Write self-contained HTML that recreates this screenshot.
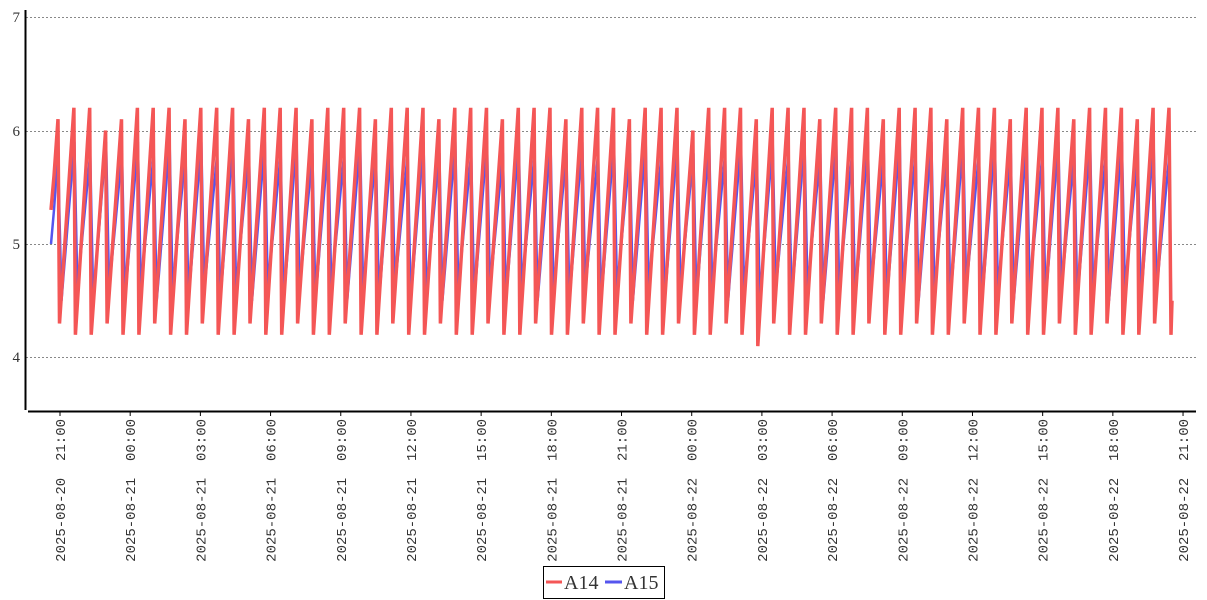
<!DOCTYPE html>
<html><head><meta charset="utf-8"><style>
html,body{margin:0;padding:0;background:#fff;}
svg{display:block;}
</style></head><body>
<svg id="s" width="1207" height="600" xmlns="http://www.w3.org/2000/svg">
<g stroke="#888" stroke-dasharray="2,2" stroke-width="1">
<line x1="26" y1="17.5" x2="1196" y2="17.5"/>
<line x1="26" y1="131.5" x2="1196" y2="131.5"/>
<line x1="26" y1="244.5" x2="1196" y2="244.5"/>
<line x1="26" y1="357.5" x2="1196" y2="357.5"/>
</g>
<g font-family="Liberation Serif, serif" font-size="15" fill="#333" text-anchor="end">
<text x="20" y="22">7</text><text x="20" y="136">6</text><text x="20" y="249">5</text><text x="20" y="362">4</text>
</g>
<line x1="25.5" y1="10" x2="25.5" y2="410" stroke="#000" stroke-width="2"/>
<line x1="28" y1="411.5" x2="1196" y2="411.5" stroke="#000" stroke-width="2"/>
<g id="xt"></g>
<path id="blue" fill="none" stroke="#5555ee" stroke-width="2.5" stroke-linejoin="miter"/>
<path id="red" fill="none" stroke="#f45656" stroke-width="3.5" stroke-linejoin="miter"/>
<rect x="543.5" y="566.5" width="121" height="32" fill="#fff" stroke="#000"/>
<line x1="546" y1="582" x2="562" y2="582" stroke="#f45656" stroke-width="3"/>
<text x="564" y="589" font-family="Liberation Serif, serif" font-size="20" fill="#333">A14</text>
<line x1="605" y1="582" x2="622" y2="582" stroke="#5555ee" stroke-width="3"/>
<text x="624" y="589" font-family="Liberation Serif, serif" font-size="20" fill="#333">A15</text>
</svg>
<script>
var ns="http://www.w3.org/2000/svg";
var labels=["2025-08-20  21:00","2025-08-21  00:00","2025-08-21  03:00","2025-08-21  06:00","2025-08-21  09:00","2025-08-21  12:00","2025-08-21  15:00","2025-08-21  18:00","2025-08-21  21:00","2025-08-22  00:00","2025-08-22  03:00","2025-08-22  06:00","2025-08-22  09:00","2025-08-22  12:00","2025-08-22  15:00","2025-08-22  18:00","2025-08-22  21:00"];
var g=document.getElementById("xt");
for(var i=0;i<labels.length;i++){
 var x=60+70.19*i;
 var l=document.createElementNS(ns,"line");
 l.setAttribute("x1",x);l.setAttribute("x2",x);l.setAttribute("y1",412);l.setAttribute("y2",416);l.setAttribute("stroke","#000");
 g.appendChild(l);
 var t=document.createElementNS(ns,"text");
 t.setAttribute("transform","translate("+(x+5)+",419) rotate(-90)");
 t.setAttribute("text-anchor","end");
 t.setAttribute("font-family","Liberation Mono, monospace");
 t.setAttribute("font-size","14");t.setAttribute("fill","#333");
 t.setAttribute("xml:space","preserve");t.style.whiteSpace="pre";
 t.textContent=labels[i];g.appendChild(t);
}
function Y(v){return 244-(v-5)*113.5;}
var N=70,x0=58,x1=1169,p=(x1-x0)/N;
var r="M51,"+Y(5.3)+" L54,"+Y(5.6)+" L58,"+Y(6.1);
var b="M51,"+Y(5.0)+" L54,"+Y(5.3)+" L58,"+Y(5.8);
for(var k=0;k<N;k++){
 var xs=x0+k*p, xe=x0+(k+1)*p;
 var tr=(k%3==0)?4.3:4.2, pk=(k%4==3)?6.1:6.2;
 if(k==2||k==39) pk=6.0;
 if(k==44) tr=4.1;
 r+=" L"+(xs+1.5).toFixed(1)+","+Y(tr);
 var steps=6;
 for(var s=1;s<=steps;s++){
  var xx=xs+1.5+(xe-xs-1.5)*s/steps, vv=tr+(pk-tr)*s/steps;
  r+=" L"+xx.toFixed(1)+","+Y(vv).toFixed(1);
 }
 var btr=(k%2==0)?4.5:4.6, bpk=(k%2==0)?5.9:5.8;
 b+=" L"+(xs+3.5).toFixed(1)+","+Y(btr);
 for(var s=1;s<=steps;s++){
  var xx=xs+3.5+(xe-xs-3)*s/steps, vv=btr+(bpk-btr)*s/steps;
  b+=" L"+xx.toFixed(1)+","+Y(vv).toFixed(1);
 }
}
r+=" L1171,"+Y(4.2)+" L1172,"+Y(4.5);
b+=" L1171,"+Y(4.5);
document.getElementById("red").setAttribute("d",r);
document.getElementById("blue").setAttribute("d",b);
</script>
</body></html>
